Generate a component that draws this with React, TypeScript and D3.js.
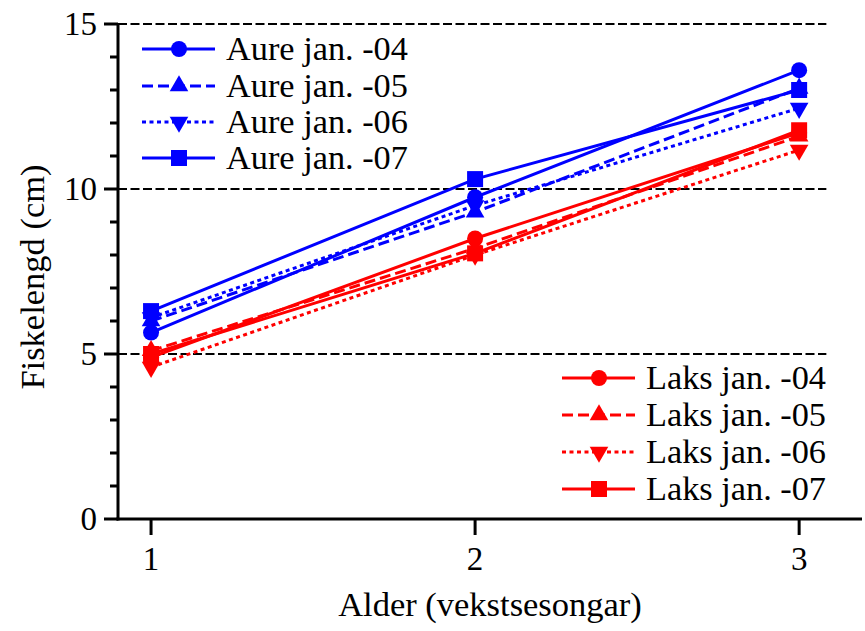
import React from "react";
import * as d3 from "d3";

const ages = [1, 2, 3];
const seriesNames = [
  "Aure jan. -04", "Aure jan. -05", "Aure jan. -06", "Aure jan. -07",
  "Laks jan. -04", "Laks jan. -05", "Laks jan. -06", "Laks jan. -07",
];
const aure04 = [5.65, 9.75, 13.6];
const aure05 = [6.0, 9.3, 13.05];
const aure06 = [6.1, 9.5, 12.45];
const aure07 = [6.3, 10.3, 13.0];
const laks04 = [4.9, 8.5, 11.7];
const laks05 = [5.1, 8.2, 11.6];
const laks06 = [4.6, 8.0, 11.18];
const laks07 = [5.0, 8.05, 11.78];
const seriesValues = [aure04, aure05, aure06, aure07, laks04, laks05, laks06, laks07];
const yTicks = [0, 5, 10, 15];
const yMinorTicks = [1, 2, 3, 4, 6, 7, 8, 9, 11, 12, 13, 14];
const gridValues = [5, 10, 15];
const xLabel = "Alder (vekstsesongar)";
const yLabel = "Fiskelengd (cm)";

const W = 865, H = 631;
const FONT = "'Liberation Serif', 'Times New Roman', serif";

export default function App() {
  const x = d3.scaleLinear().domain([0.898, 3.194]).range([118, 862]);
  const y = d3.scaleLinear().domain([0, 15]).range([519, 24]);
  const colors = ["#0000ff", "#0000ff", "#0000ff", "#0000ff", "#ff0000", "#ff0000", "#ff0000", "#ff0000"];
  const dashes = ["", "11,5", "4,3.5", "", "", "11,5", "4,3.5", ""];
  const shapes = ["circle", "up", "down", "square"];

  const marker = (shape: string, cx: number, cy: number, color: string) => {
    if (shape === "circle") return <circle cx={cx} cy={cy} r={8} fill={color} />;
    if (shape === "square") return <rect x={cx - 8} y={cy - 8} width={16} height={16} fill={color} />;
    const path = d3.symbol().type(d3.symbolTriangle).size(150)()!;
    return (
      <path d={path} fill={color}
        transform={`translate(${cx},${cy})${shape === "down" ? " rotate(180)" : ""}`} />
    );
  };

  const line = d3.line<number>().x((_, i) => x(ages[i])).y((d) => y(d));

  const legendRow = (i: number, lx: number, ly: number) => (
    <g key={"leg" + i}>
      <line x1={lx} x2={lx + 73} y1={ly} y2={ly} stroke={colors[i]} strokeWidth={3}
        strokeDasharray={dashes[i] || undefined} />
      {marker(shapes[i % 4], lx + 37, ly, colors[i])}
      <text x={lx + 84} y={ly + 11} fontSize={34.3} fontFamily={FONT} fill="#000">{seriesNames[i]}</text>
    </g>
  );

  const aureRowsY = [49, 86, 122, 158];
  const laksRowsY = [378, 415, 452, 489];

  return (
    <svg width={W} height={H} style={{ position: "absolute", left: 0, top: 0, background: "#fff" }}>
      {gridValues.map((v) => (
        <line key={"g" + v} x1={118} x2={x(3.084)} y1={y(v)} y2={y(v)} stroke="#000" strokeWidth={2}
          strokeDasharray="9,3.5" />
      ))}
      {seriesValues.map((vals, i) => (
        <g key={"s" + i}>
          <path d={line(vals)!} fill="none" stroke={colors[i]} strokeWidth={3}
            strokeDasharray={dashes[i] || undefined} />
          {vals.map((v, j) => (
            <g key={j}>{marker(shapes[i % 4], x(ages[j]), y(v), colors[i])}</g>
          ))}
        </g>
      ))}
      <line x1={118} x2={118} y1={y(15)} y2={y(0) + 1.5} stroke="#000" strokeWidth={3} />
      <line x1={116.5} x2={862} y1={y(0)} y2={y(0)} stroke="#000" strokeWidth={3} />
      {yTicks.map((t) => (
        <g key={"yt" + t}>
          <line x1={104} x2={118} y1={y(t)} y2={y(t)} stroke="#000" strokeWidth={3} />
          <text x={97} y={y(t) + 11} textAnchor="end" fontSize={33} fontFamily={FONT}>{t}</text>
        </g>
      ))}
      {yMinorTicks.map((t) => (
        <line key={"ym" + t} x1={110} x2={118} y1={y(t)} y2={y(t)} stroke="#000" strokeWidth={3} />
      ))}
      {ages.map((a) => (
        <g key={"xt" + a}>
          <line x1={x(a)} x2={x(a)} y1={y(0)} y2={y(0) + 16} stroke="#000" strokeWidth={3} />
          <text x={x(a)} y={570} textAnchor="middle" fontSize={33} fontFamily={FONT}>{a}</text>
        </g>
      ))}
      <text x={490} y={616} textAnchor="middle" fontSize={34.5} fontFamily={FONT}>{xLabel}</text>
      <text transform={`translate(44,277) rotate(-90)`} textAnchor="middle" fontSize={34.5} fontFamily={FONT}>{yLabel}</text>
      {[0, 1, 2, 3].map((i) => legendRow(i, 142, aureRowsY[i]))}
      {[4, 5, 6, 7].map((i) => legendRow(i, 562, laksRowsY[i - 4]))}
    </svg>
  );
}
